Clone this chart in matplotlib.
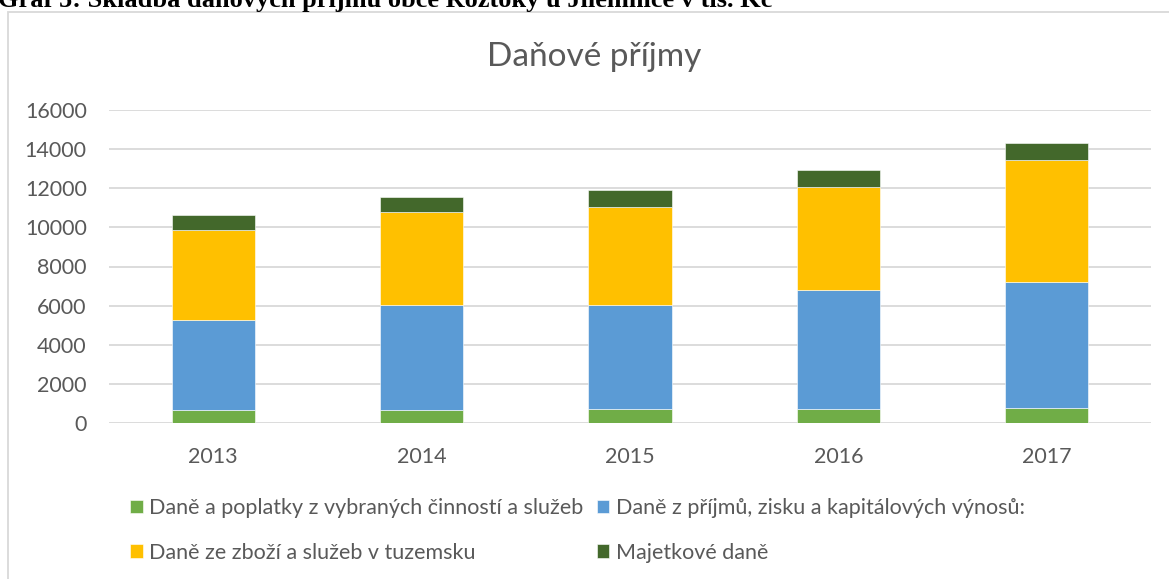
import numpy as np
import matplotlib
matplotlib.use("Agg")
import matplotlib.pyplot as plt
from matplotlib.patches import Rectangle

plt.rcParams["font.family"] = ["Lato", "DejaVu Sans"]

roky = ["2013", "2014", "2015", "2016", "2017"]
poplatky = [690, 690, 700, 700, 750]
prijmy = [4580, 5330, 5350, 6100, 6450]
zbozi = [4610, 4750, 5000, 5280, 6240]
majetek = [770, 805, 850, 850, 855]

nazvy = ["Daně a poplatky z vybraných činností a služeb",
         "Daně z příjmů, zisku a kapitálových výnosů:",
         "Daně ze zboží a služeb v tuzemsku",
         "Majetkové daně"]
barvy = ["#70AD47", "#5B9BD5", "#FFC000", "#43682B"]

W, H = 1169, 579
fig = plt.figure(figsize=(W / 100, H / 100), dpi=100)

# okraj grafu (ramecek pokracuje za pravy a dolni okraj)
fig.patches.append(Rectangle((8 / W, -0.1), 1.2, 1 - 12 / H + 0.1,
                             transform=fig.transFigure, fill=False,
                             edgecolor="#d9d9d9", linewidth=1.3))

fig.text(-2 / W, 1 - 7 / H, "Graf 5: Skladba daňových příjmů obce Roztoky u Jilemnice v tis. Kč",
         family="Liberation Serif", weight="bold", fontsize=19,
         ha="left", va="baseline", color="black")

ax = fig.add_axes([109 / W, 1 - 423 / H, (1151 - 109) / W, (423 - 110) / H])

x = np.arange(len(roky))
sirka = 0.4
spodek = np.zeros(len(roky))
rady = [poplatky, prijmy, zbozi, majetek]
for hodnoty, nazev, barva in zip(rady, nazvy, barvy):
    ax.bar(x, hodnoty, sirka, bottom=spodek, color=barva, label=nazev,
           edgecolor="white", linewidth=0.4, zorder=3)
    spodek = spodek + np.array(hodnoty)

ax.set_xlim(-0.5, len(roky) - 0.5)
ax.set_ylim(0, 16000)
ax.set_yticks(np.arange(0, 16001, 2000))
ax.set_xticks(x)
ax.set_xticklabels(roky)
ax.grid(axis="y", color="#d9d9d9", linewidth=1.3, zorder=0)
for s in ax.spines.values():
    s.set_visible(False)
ax.tick_params(length=0, labelsize=15.5, labelcolor="#595959")
ax.tick_params(axis="y", pad=16)
ax.tick_params(axis="x", pad=17)

fig.text(594 / W, 1 - 57 / H, "Daňové příjmy", fontsize=24, color="#595959",
         ha="center", va="center")

# legenda po radcich jako v Excelu
h, l = ax.get_legend_handles_labels()
poradi = [0, 2, 1, 3]
leg = fig.legend([h[i] for i in poradi], [l[i] for i in poradi], ncol=2,
                 loc="upper left", bbox_to_anchor=(130 / W, 1 - 498 / H),
                 frameon=False, fontsize=15.5, labelcolor="#595959",
                 handlelength=0.6, handleheight=0.6, handletextpad=0.3,
                 columnspacing=0.6, labelspacing=1.15, borderpad=0,
                 borderaxespad=0)

fig.savefig("out.png", dpi=100)
